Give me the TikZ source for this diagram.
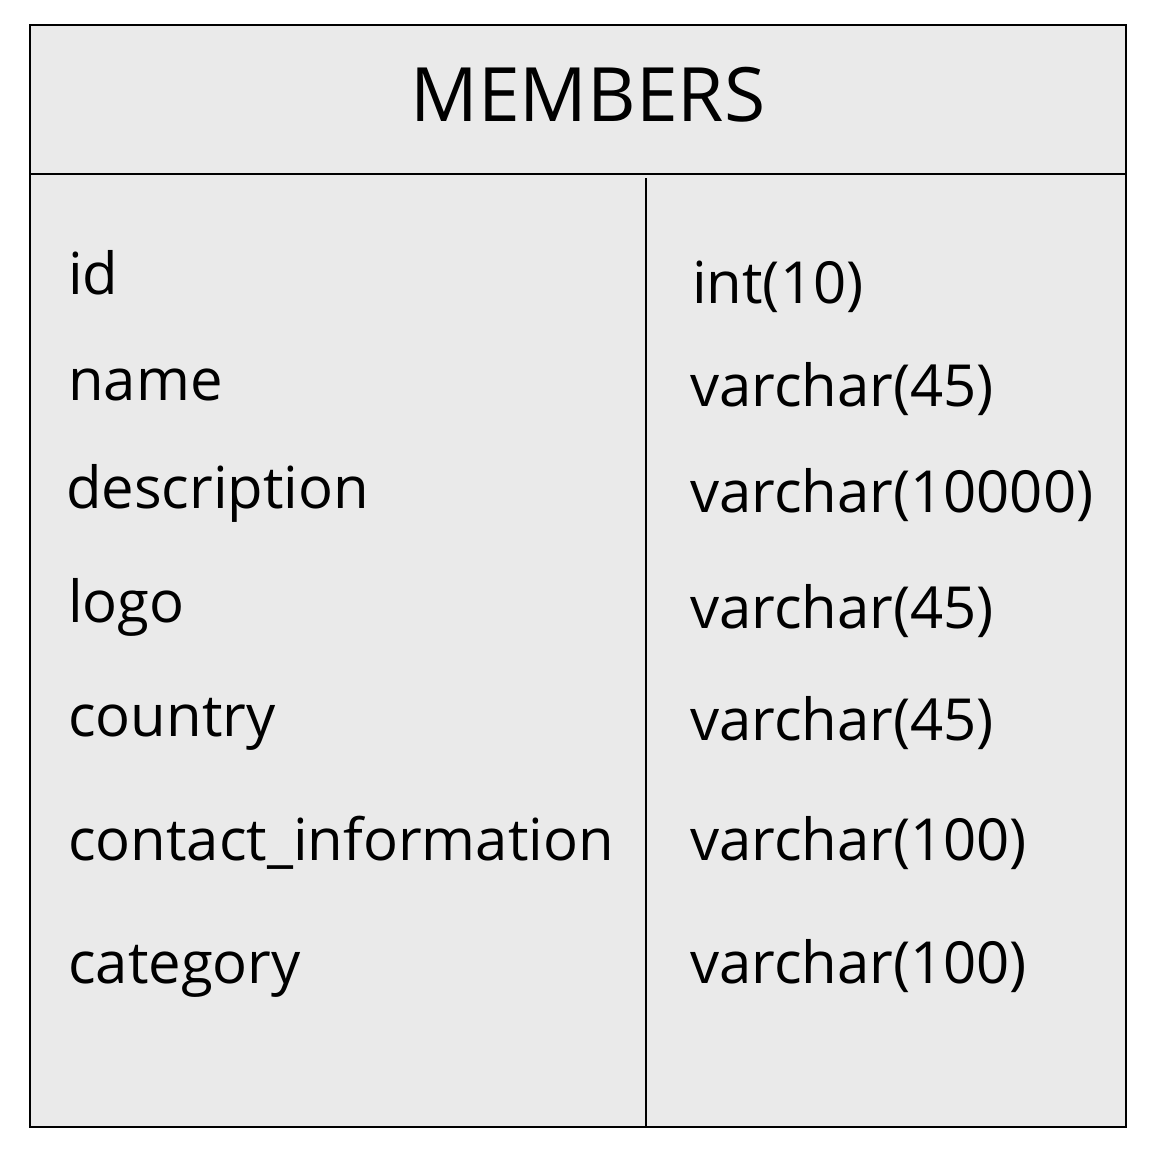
\documentclass[tikz,border=0pt]{standalone}
\usepackage{fontspec}
\setmainfont{Open Sans}
\definecolor{cellgray}{HTML}{EAEAEA}
\begin{document}
\begin{tikzpicture}[x=1pt,y=-1pt,
  field/.style={anchor=base west,inner sep=0pt,font=\fontsize{58}{66}\selectfont},
  title/.style={anchor=base,inner sep=0pt,font=\fontsize{75}{90}\selectfont}]
\useasboundingbox (0,0) rectangle (1155,1159);
% table frame
\draw[line width=1.5pt,fill=cellgray] (30,25) rectangle (1126,1127);
\draw[line width=1.5pt] (30,174) -- (1126,174);
\draw[line width=2.5pt] (646,178) -- (646,1127);
% header
\path (588,121) node[title] (hdr) {MEMBERS};
% column names
\path (68,294) node[field] (id) {id};
\path (68,400) node[field] (name) {name};
\path (66,508) node[field] (desc) {description};
\path (68,622) node[field] (logo) {logo};
\path (68,736) node[field] (country) {country};
\path (68,860) node[field] (contact) {contact\_information};
\path (68,983) node[field] (cat) {category};
% column types
\path (692,303) node[field] (tid) {int(10)};
\path (690,406) node[field] (tname) {varchar(45)};
\path (690,512) node[field] (tdesc) {varchar(10000)};
\path (690,628) node[field] (tlogo) {varchar(45)};
\path (690,740) node[field] (tcountry) {varchar(45)};
\path (690,860) node[field] (tcontact) {varchar(100)};
\path (690,983) node[field] (tcat) {varchar(100)};
\end{tikzpicture}
\end{document}
